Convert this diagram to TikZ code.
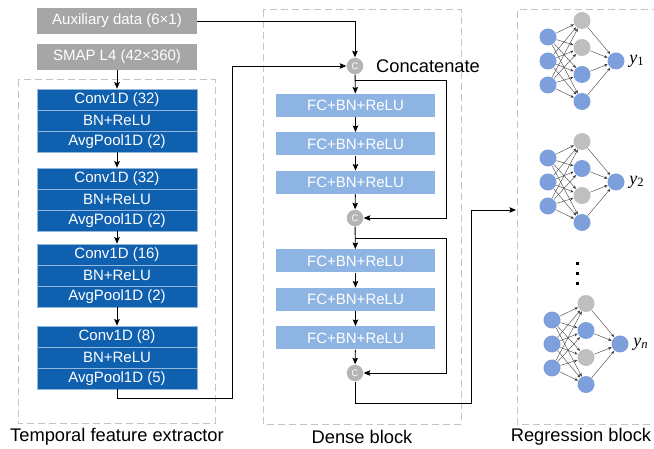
\documentclass[tikz,border=0pt]{standalone}
\usepackage{fontspec}
\setmainfont{Liberation Sans}
\newfontfamily\tnr{Liberation Serif}
\usepackage{tikz}
\usetikzlibrary{arrows.meta, positioning}
\definecolor{convblue}{HTML}{1060B0}
\definecolor{fcblue}{HTML}{8EB4E3}
\definecolor{auxgray}{HTML}{A6A6A6}
\definecolor{catgray}{HTML}{B4B4B4}
\definecolor{nnblue}{HTML}{7DA0DC}
\definecolor{nngray}{HTML}{BFBFBF}
\definecolor{boxgray}{HTML}{C4C4C4}

\begin{document}
\begin{tikzpicture}[x=1pt,y=-1pt,->,>={Stealth[length=6.5pt,width=5.5pt,inset=1pt]},node distance=21pt,line width=0.9pt]
                \tikzset{conv/.style={draw=white!55!convblue, line width=0.6pt, fill=convblue, text=white, minimum width=160pt, minimum height=21pt, inner sep=0pt, font=\fontsize{15}{15}\selectfont},
                         fc/.style={fill=fcblue, text=white, minimum width=159pt, minimum height=23pt, inner sep=0pt, font=\fontsize{15}{15}\selectfont},
                         inbox/.style={fill=auxgray, text=white, minimum width=160pt, minimum height=26pt, inner sep=0pt, font=\fontsize{15}{15}\selectfont},
                         cat/.style={circle, fill=catgray, text=white, minimum size=16.5pt, inner sep=0pt, font=\fontsize{9.5}{9.5}\selectfont},
                         neuron/.style={circle, minimum size=17pt, inner sep=0pt},
                         nnedge/.style={line width=0.4pt, draw=black!75, >={Stealth[length=3.5pt,width=2.8pt]}},
                         blockbox/.style={-, draw=boxgray, line width=1pt, dash pattern=on 7pt off 4pt},
                         caption/.style={inner sep=0pt, font=\fontsize{18.3}{18.3}\selectfont}}
                \useasboundingbox (0,0) rectangle (654,449);
                % inputs
                \node[inbox] (aux) at (117,21) {Auxiliary data (6×1)};
                \node[inbox] (smap) at (117,57) {SMAP L4 (42×360)};
                % temporal feature extractor
                \draw[blockbox] (18,80) rectangle (215,423);
                \node[conv] (c1) at (117,99.5) {Conv1D (32)};
                \node[conv, below of=c1] (b1) {BN+ReLU};
                \node[conv, below of=b1] (p1) {AvgPool1D (2)};
                \node[conv] (c2) at (117,178.5) {Conv1D (32)};
                \node[conv, below of=c2] (b2) {BN+ReLU};
                \node[conv, below of=b2] (p2) {AvgPool1D (2)};
                \node[conv] (c3) at (117,254.5) {Conv1D (16)};
                \node[conv, below of=c3] (b3) {BN+ReLU};
                \node[conv, below of=b3] (p3) {AvgPool1D (2)};
                \node[conv] (c4) at (117,336.5) {Conv1D (8)};
                \node[conv, below of=c4] (b4) {BN+ReLU};
                \node[conv, below of=b4] (p4) {AvgPool1D (5)};
                \path (smap) edge (c1);
                \path (p1) edge (c2);
                \path (p2) edge (c3);
                \path (p3) edge (c4);
                \node[caption] (tfe) at (117,437) {Temporal feature extractor};
                % dense block
                \draw[blockbox] (263,10) rectangle (461,424);
                \node[cat] (cat1) at (355,66) {C};
                \node[caption, right=12pt of cat1] (cc) {Concatenate};
                \node[fc] (fc1) at (355.5,105.5) {FC+BN+ReLU};
                \node[fc, below of=fc1, node distance=38.5pt] (fc2) {FC+BN+ReLU};
                \node[fc, below of=fc2, node distance=38.5pt] (fc3) {FC+BN+ReLU};
                \node[cat] (cat2) at (355,218) {C};
                \node[fc] (fc4) at (355.5,261) {FC+BN+ReLU};
                \node[fc, below of=fc4, node distance=38.5pt] (fc5) {FC+BN+ReLU};
                \node[fc, below of=fc5, node distance=38.5pt] (fc6) {FC+BN+ReLU};
                \node[cat] (cat3) at (355,373) {C};
                \path (cat1) edge (fc1);
                \path (fc1) edge (fc2);
                \path (fc2) edge (fc3);
                \path (fc3) edge (cat2);
                \path (cat2) edge (fc4);
                \path (fc4) edge (fc5);
                \path (fc5) edge (fc6);
                \path (fc6) edge (cat3);
                \coordinate (s1) at (355,80);
                \coordinate (s2) at (355,238);
                \draw (s1) -- (446,80) |- (cat2);
                \draw (s2) -- (446,238) |- (cat3);
                \draw (aux) -| (cat1);
                \draw (p4) -- (117,398) -| (232,66) -- (cat1);
                \node[caption] (dense) at (362,437) {Dense block};
                % regression block
                \draw[blockbox] (670,10) -- (517,10) -- (517,424) -- (670,424);
                \coordinate (rin) at (516,210);
                \draw (cat3) -- (355,403) -| (471,210) -- (rin);
                \foreach \k/\nx/\ny/\ha/\hc/\s in {1/548/61/nngray/nnblue/{\upshape 1}, 2/548/182/nnblue/nngray/{\upshape 2}, 3/552/344/nnblue/nngray/{\itshape n}} {
                    \node[neuron, fill=nnblue] (in\k1) at (\nx,\ny-24) {};
                    \node[neuron, fill=nnblue] (in\k2) at (\nx,\ny) {};
                    \node[neuron, fill=nnblue] (in\k3) at (\nx,\ny+24) {};
                    \node[neuron, fill=nngray] (hid\k1) at (\nx+34,\ny-40.5) {};
                    \node[neuron, fill=\ha] (hid\k2) at (\nx+34,\ny-13.5) {};
                    \node[neuron, fill=\hc] (hid\k3) at (\nx+34,\ny+13.5) {};
                    \node[neuron, fill=nnblue] (hid\k4) at (\nx+34,\ny+40.5) {};
                    \node[neuron, fill=nnblue] (out\k) at (\nx+68,\ny) {};
                    \node[right=4pt of out\k, inner sep=0pt, font=\tnr\fontsize{18}{18}\selectfont] (y\k) {\textit{y}\textsubscript{\s}};
                    \foreach \i in {1,2,3}
                        \foreach \j in {1,...,4}
                            \path[nnedge] (in\k\i) edge (hid\k\j);
                    \foreach \j in {1,...,4}
                        \path[nnedge] (hid\k\j) edge (out\k);
                }
                \fill[-] (575.5,262.5) rectangle ++(3,3);
                \fill[-] (575.5,272.5) rectangle ++(3,3);
                \fill[-] (575.5,282.5) rectangle ++(3,3);
                \node[caption] (reg) at (581,437) {Regression block};
            \end{tikzpicture}
\end{document}
